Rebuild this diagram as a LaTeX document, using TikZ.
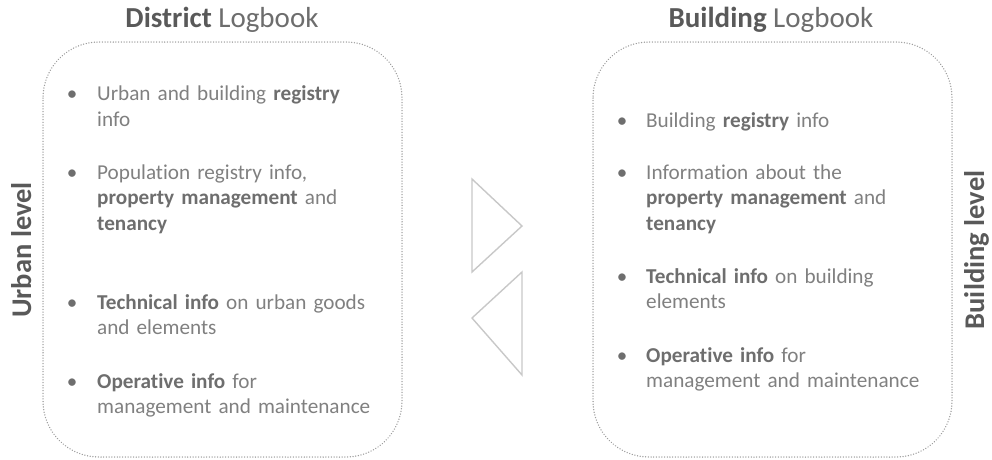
\documentclass[tikz,border=0pt]{standalone}
\usepackage{fontspec}
\setmainfont[RawFeature=-liga]{Carlito}
\begin{document}
\definecolor{txt}{HTML}{808080}
\definecolor{txtb}{HTML}{6E6E6E}
\definecolor{ttl}{HTML}{595959}
\definecolor{frame}{HTML}{9E9E9E}
\definecolor{tri}{HTML}{C8C8C8}
\begin{tikzpicture}[x=1pt,y=-1pt,
  panel/.style={draw=frame,line width=1.5pt,dash pattern=on 0.01pt off 2.7pt,line cap=round,rounded corners=56pt},
  title/.style={anchor=base,inner sep=0pt,text=ttl,font=\fontsize{29}{34}\selectfont},
  level/.style={anchor=base,rotate=90,inner sep=0pt,text=ttl,font=\fontsize{28.5}{34}\selectfont\bfseries},
  item/.style={anchor=base west,inner sep=0pt,text=txt,text width=300pt,align=left,font=\fontsize{21.2}{25.8}\selectfont},
  dot/.style={anchor=base,inner sep=0pt,text=txtb,font=\fontsize{21}{25.8}\selectfont},
  arrowtri/.style={draw=tri,line width=1.4pt,line join=miter}]
\newcommand{\hl}[1]{\textcolor{txtb}{\textbf{#1}}}
\path[use as bounding box] (0,0) rectangle (992,459);

% titles
\node[title] (tleft) at (222,27) {\textbf{District} \textcolor{txt!85!black}{Logbook}};
\node[title] (tright) at (771,27) {\textbf{Building} \textcolor{txt!85!black}{Logbook}};

% dotted panels
\draw[panel] (43,42) rectangle (402,457);
\draw[panel] (593,42) rectangle (952,457);

% side labels
\node[level] (lleft) at (31,250) {Urban level};
\node[level] (lright) at (984,250) {Building level};

% district items
\node[dot] (b1) at (72,100.5) {•};
\node[item] (i1) at (97,100.5) {Urban and building \hl{registry}\\info};
\node[dot] (b2) at (72,179) {•};
\node[item] (i2) at (97,179) {Population registry info,\\\hl{property management} and\\\hl{tenancy}};
\node[dot] (b3) at (72,309) {•};
\node[item] (i3) at (97,309) {\hl{Technical info} on urban goods\\and elements};
\node[dot] (b4) at (72,388) {•};
\node[item] (i4) at (97,388) {\hl{Operative info} for\\management and maintenance};

% building items
\node[dot] (c1) at (622,127) {•};
\node[item] (j1) at (646,127) {Building \hl{registry} info};
\node[dot] (c2) at (622,179) {•};
\node[item] (j2) at (646,179) {Information about the\\\hl{property management} and\\\hl{tenancy}};
\node[dot] (c3) at (622,283) {•};
\node[item] (j3) at (646,283) {\hl{Technical info} on building\\elements};
\node[dot] (c4) at (622,362) {•};
\node[item] (j4) at (646,362) {\hl{Operative info} for\\management and maintenance};

% exchange triangles
\draw[arrowtri] (472,179) -- (522,226) -- (472,272) -- cycle;
\draw[arrowtri] (522,272) -- (522,375) -- (472,318) -- cycle;
\end{tikzpicture}
\end{document}
